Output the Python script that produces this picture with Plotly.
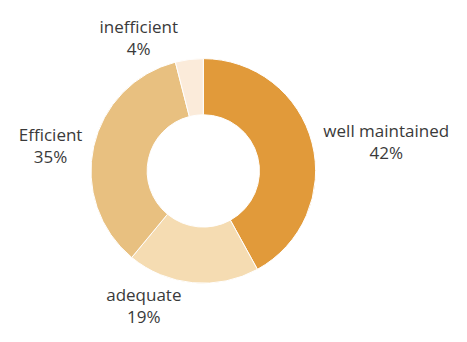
import plotly.graph_objects as go

labels = ["well maintained", "adequate", "Efficient", "inefficient"]
values = [42, 19, 35, 4]
colors = ["#E19A3A", "#F5DCB2", "#E8C080", "#FBEBDA"]

fig = go.Figure(
    go.Pie(
        labels=labels,
        values=values,
        hole=0.5,
        sort=False,
        direction="clockwise",
        rotation=0,
        marker=dict(colors=colors, line=dict(color="white", width=1)),
        textposition="outside",
        texttemplate="%{label}<br>%{percent:.0%}",
        textfont=dict(family="Open Sans", size=17, color="#3a3a3a"),
        hoverinfo="label+percent",
        showlegend=False,
        domain=dict(x=[0.0, 0.874], y=[0.0, 0.965]),
    )
)

fig.update_layout(
    width=467,
    height=342,
    margin=dict(l=0, r=0, t=0, b=0),
    paper_bgcolor="white",
    plot_bgcolor="white",
)

fig.write_html("out.html")
